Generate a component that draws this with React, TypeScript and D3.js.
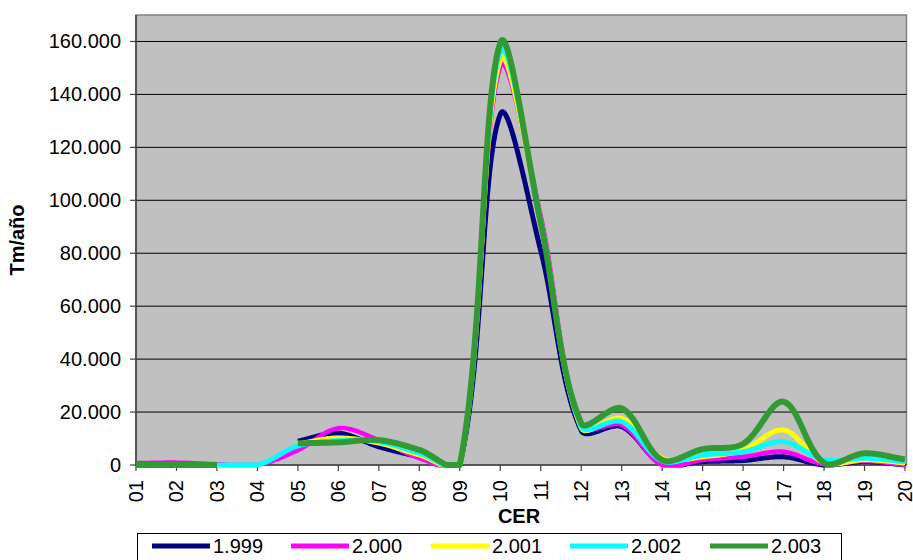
import React from "react";
import * as d3 from "d3";

const categories = ["01","02","03","04","05","06","07","08","09","10","11","12","13","14","15","16","17","18","19","20"];
const seriesNames = ["1.999", "2.000", "2.001", "2.002", "2.003"];
const seriesColors = ["#000080", "#FF00FF", "#FFFF00", "#00FFFF", "#339933"];
const seriesWidths = [5, 4.5, 5, 5, 6];

const s1999 = [null, null, null, null, 9000, 12000, 6900, 3100, 0, 132500, 81000, 13000, 14500, 300, 1300, 1700, 3100, 0, 1300, 0];
const s2000 = [700, 900, 300, 0, 5600, 13900, 9400, 2600, 0, 150500, 94000, 14500, 15100, 0, 1900, 3100, 5000, 300, 1500, 0];
const s2001 = [null, null, null, null, 8000, 10200, 8300, 3800, 0, 153000, 92000, 14000, 17600, 2600, 3100, 5700, 13200, 800, 2000, 800];
const s2002 = [0, 0, 0, 0, 7200, 9200, 8800, 4500, 0, 156500, 92000, 14500, 16400, 1500, 3800, 5000, 8800, 1900, 2600, 1300];
const s2003 = [0, 0, 0, null, 8200, 8550, 9400, 5700, 0, 159500, 91500, 15800, 21400, 1900, 6000, 8000, 23900, 800, 4400, 2100];
const seriesValues = [s1999, s2000, s2001, s2002, s2003];

const yTicks = [0, 20000, 40000, 60000, 80000, 100000, 120000, 140000, 160000];
const yMax = 170000;

const W = 913, H = 560;
const plot = { left: 136, right: 905, top: 15, bottom: 465 };
const FONT = "'Liberation Sans', Arial, sans-serif";

const locale = d3.formatLocale({ decimal: ",", thousands: ".", grouping: [3], currency: ["", ""] });
const fmt = locale.format(",");

type Pt = [number, number];

// Excel-like smoothing: Bezier with control points proportional to neighbouring segment lengths,
// values below the axis minimum are flattened onto the axis.
function smoothSample(pts: Pt[], yFloor: number): Pt[] {
  const n = pts.length;
  if (n < 2) return pts;
  const dist = (a: Pt, b: Pt) => Math.hypot(a[0] - b[0], a[1] - b[1]);
  const out: Pt[] = [];
  const steps = 30;
  for (let i = 0; i < n - 1; i++) {
    const p0 = pts[i], p3 = pts[i + 1];
    const prev = i > 0 ? pts[i - 1] : pts[i];
    const next = i + 2 < n ? pts[i + 2] : pts[i + 1];
    const da = dist(prev, p0), db = dist(p0, p3), dc = dist(p3, next);
    const f1 = da + db > 0 ? db / (da + db) / 3 : 0;
    const f2 = db + dc > 0 ? db / (db + dc) / 3 : 0;
    const c1: Pt = [p0[0] + (p3[0] - prev[0]) * f1, p0[1] + (p3[1] - prev[1]) * f1];
    const c2: Pt = [p3[0] - (next[0] - p0[0]) * f2, p3[1] - (next[1] - p0[1]) * f2];
    for (let s = 0; s < steps; s++) {
      const t = s / steps, u = 1 - t;
      const bx = u * u * u * p0[0] + 3 * u * u * t * c1[0] + 3 * u * t * t * c2[0] + t * t * t * p3[0];
      const by = u * u * u * p0[1] + 3 * u * u * t * c1[1] + 3 * u * t * t * c2[1] + t * t * t * p3[1];
      out.push([bx, Math.min(yFloor, by)]);
    }
  }
  out.push([pts[n - 1][0], Math.min(yFloor, pts[n - 1][1])]);
  return out;
}

export default function App() {
  const x = d3.scalePoint<string>().domain(categories).range([plot.left, plot.right]);
  const y = d3.scaleLinear().domain([0, yMax]).range([plot.bottom, plot.top]);
  const line = d3.line<Pt>().x(d => d[0]).y(d => d[1]);

  const segmentsFor = (vals: (number | null)[]): Pt[][] => {
    const segs: Pt[][] = [];
    let cur: Pt[] = [];
    vals.forEach((v, i) => {
      if (v === null || v === undefined) {
        if (cur.length) segs.push(cur);
        cur = [];
      } else cur.push([x(categories[i]) as number, y(v)]);
    });
    if (cur.length) segs.push(cur);
    return segs.map(s => smoothSample(s, plot.bottom));
  };

  const legendX = [152, 291, 431, 570, 710];

  return (
    <svg width={W} height={H} style={{ position: "absolute", left: 0, top: 0, background: "#fff" }}
      fontFamily={FONT}>
      <rect x={0} y={0} width={W} height={H} fill="#fff" />
      <rect x={plot.left} y={plot.top} width={plot.right - plot.left + 1.5} height={plot.bottom - plot.top}
        fill="#C0C0C0" stroke="#808080" strokeWidth={1.5} />
      {yTicks.filter(t => t > 0).map(t => (
        <line key={t} x1={plot.left} x2={plot.right + 1.5} y1={y(t)} y2={y(t)} stroke="#000" strokeWidth={1} />
      ))}
      <line x1={plot.left} x2={plot.left} y1={plot.top} y2={plot.bottom} stroke="#404040" strokeWidth={1.5} />
      <line x1={plot.left} x2={plot.right + 1.5} y1={plot.bottom} y2={plot.bottom} stroke="#404040" strokeWidth={1.5} />
      {yTicks.map(t => (
        <g key={t}>
          <line x1={plot.left - 6} x2={plot.left} y1={y(t)} y2={y(t)} stroke="#404040" strokeWidth={1.2} />
          <text x={121} y={y(t)} textAnchor="end" dominantBaseline="central" fontSize={20} fill="#000">{fmt(t)}</text>
        </g>
      ))}
      {categories.map(c => (
        <g key={c}>
          <line x1={x(c)} x2={x(c)} y1={plot.bottom} y2={plot.bottom + 6} stroke="#404040" strokeWidth={1.2} />
          <text transform={`translate(${x(c)},${480}) rotate(-90)`} textAnchor="end" dominantBaseline="central"
            fontSize={20} fill="#000">{c}</text>
        </g>
      ))}
      {seriesValues.map((vals, si) =>
        segmentsFor(vals).map((seg, k) => (
          <path key={`${si}-${k}`} d={line(seg) || ""} fill="none" stroke={seriesColors[si]}
            strokeWidth={seriesWidths[si]} strokeLinejoin="round" strokeLinecap="butt" />
        ))
      )}
      <text transform={`translate(24,${(plot.top + plot.bottom) / 2}) rotate(-90)`} textAnchor="middle"
        fontSize={20} fontWeight="bold" fill="#000">Tm/año</text>
      <text x={519} y={523} textAnchor="middle" fontSize={20} fontWeight="bold" fill="#000">CER</text>
      <rect x={137.5} y={533.5} width={704} height={40} fill="#fff" stroke="#000" strokeWidth={1} />
      {seriesNames.map((n, i) => (
        <g key={n}>
          <line x1={legendX[i]} x2={legendX[i] + 58} y1={546} y2={546} stroke={seriesColors[i]} strokeWidth={5} />
          <text x={legendX[i] + 61} y={546} dominantBaseline="central" fontSize={20} fill="#000">{n}</text>
        </g>
      ))}
    </svg>
  );
}
